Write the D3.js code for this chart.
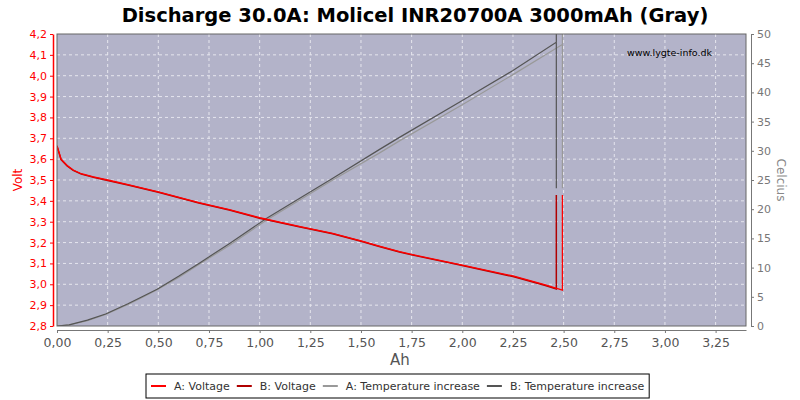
<!DOCTYPE html>
<html>
<head>
<meta charset="utf-8">
<script src="https://cdn.jsdelivr.net/npm/d3@7"></script>
<style>
body { margin: 0; background: #fff; }
text { font-family: "DejaVu Sans", sans-serif; }
</style>
</head>
<body>
<svg id="chart" width="800" height="400"></svg>
<script>
// data: [Ah, value]
var voltageA = [[0, 3.665], [0.02, 3.60], [0.05, 3.57], [0.08, 3.548], [0.12, 3.53], [0.18, 3.515], [0.25, 3.50],
    [0.35, 3.478], [0.5, 3.443], [0.7, 3.392], [0.85, 3.358], [1.0, 3.319], [1.2, 3.277], [1.36, 3.244],
    [1.5, 3.208], [1.59, 3.183], [1.69, 3.157], [1.75, 3.143], [2.0, 3.092], [2.25, 3.04], [2.41, 2.997], [2.494, 2.972], [2.494, 3.428]];
var voltageB = [[0, 3.662], [0.02, 3.598], [0.05, 3.568], [0.08, 3.546], [0.12, 3.528], [0.18, 3.513], [0.25, 3.498],
    [0.35, 3.476], [0.5, 3.441], [0.7, 3.390], [0.85, 3.356], [1.0, 3.317], [1.2, 3.275], [1.36, 3.242],
    [1.5, 3.206], [1.59, 3.181], [1.69, 3.155], [1.75, 3.141], [2.0, 3.09], [2.25, 3.037], [2.41, 2.994], [2.464, 2.977], [2.464, 3.428]];
var tempA = [[0, 0], [0.06, 0.2], [0.15, 0.9], [0.24, 2.0], [0.35, 3.7], [0.42, 4.9], [0.494, 6.2], [0.6, 8.3], [0.704, 10.6],
    [0.85, 13.8], [1.033, 18.1], [1.2, 21.6], [1.361, 25.0], [1.59, 29.6], [1.69, 31.7], [2.0, 37.9], [2.248, 43.0],
    [2.494, 48.2], [2.494, 60], [2.494, 23.6]];
var tempB = [[0, 0], [0.06, 0.2], [0.15, 1.0], [0.24, 2.05], [0.35, 3.8], [0.42, 5.0], [0.494, 6.3], [0.6, 8.5], [0.704, 10.8],
    [0.85, 14.1], [1.033, 18.4], [1.2, 21.9], [1.361, 25.3], [1.59, 30.2], [1.69, 32.3], [2.0, 38.6], [2.248, 43.7],
    [2.464, 48.6], [2.464, 60], [2.464, 23.6]];

var xTicks = [0, 0.25, 0.5, 0.75, 1, 1.25, 1.5, 1.75, 2, 2.25, 2.5, 2.75, 3, 3.25];
var voltTicks = [2.8, 2.9, 3.0, 3.1, 3.2, 3.3, 3.4, 3.5, 3.6, 3.7, 3.8, 3.9, 4.0, 4.1, 4.2];
var tempTicks = [0, 5, 10, 15, 20, 25, 30, 35, 40, 45, 50];

var seriesNames = ["A: Voltage", "B: Voltage", "A: Temperature increase", "B: Temperature increase"];
var seriesColors = ["#ff0000", "#b00000", "#999999", "#555555"];

var svg = d3.select("#chart");
var pLeft = 57, pRight = 746, pTop = 34, pBottom = 326;

var x = d3.scaleLinear().domain([0, 3.4]).range([pLeft, pRight]);
var yV = d3.scaleLinear().domain([2.8, 4.2]).range([pBottom, pTop]);
var yT = d3.scaleLinear().domain([0, 50]).range([pBottom, pTop]);

// plot background
svg.append("rect")
    .attr("x", pLeft).attr("y", pTop)
    .attr("width", pRight - pLeft).attr("height", pBottom - pTop)
    .attr("fill", "#b3b3c9");

// grid
svg.append("g").selectAll("line")
    .data(xTicks.slice(1))
    .enter().append("line")
    .attr("x1", d => x(d)).attr("x2", d => x(d))
    .attr("y1", pTop).attr("y2", pBottom)
    .attr("stroke", "#e6e6ee").attr("stroke-dasharray", "3,3");
svg.append("g").selectAll("line")
    .data(voltTicks.slice(1, -1))
    .enter().append("line")
    .attr("x1", pLeft).attr("x2", pRight)
    .attr("y1", d => yV(d)).attr("y2", d => yV(d))
    .attr("stroke", "#e6e6ee").attr("stroke-dasharray", "3,3");

svg.append("defs").append("clipPath").attr("id", "clip")
    .append("rect").attr("x", pLeft).attr("y", pTop).attr("width", pRight - pLeft).attr("height", pBottom - pTop);

var lineV = d3.line().x(d => x(d[0])).y(d => yV(d[1]));
var lineT = d3.line().x(d => x(d[0])).y(d => yT(d[1]));

var plot = svg.append("g").attr("clip-path", "url(#clip)");
plot.append("path").datum(tempA).attr("d", lineT).attr("fill", "none").attr("stroke", seriesColors[2]).attr("stroke-width", 1.2);
plot.append("path").datum(tempB).attr("d", lineT).attr("fill", "none").attr("stroke", seriesColors[3]).attr("stroke-width", 1.2);
plot.append("path").datum(voltageB).attr("d", lineV).attr("fill", "none").attr("stroke", seriesColors[1]).attr("stroke-width", 1.5);
plot.append("path").datum(voltageA).attr("d", lineV).attr("fill", "none").attr("stroke", seriesColors[0]).attr("stroke-width", 1.3);

// plot border
svg.append("rect")
    .attr("x", pLeft).attr("y", pTop)
    .attr("width", pRight - pLeft).attr("height", pBottom - pTop)
    .attr("fill", "none").attr("stroke", "#666").attr("stroke-width", 1);

// axes
var comma = d3.format(".2f");
var xAxis = svg.append("g")
    .attr("transform", "translate(0," + (pBottom + 4) + ")")
    .call(d3.axisBottom(x).tickValues(xTicks).tickSize(3).tickSizeOuter(0).tickFormat(d => comma(d).replace(".", ",")));
xAxis.select(".domain").attr("stroke", "#777");
xAxis.selectAll(".tick line").attr("stroke", "#777");
xAxis.selectAll("text").attr("fill", "#555").attr("font-size", 12.5).attr("dy", "0.9em");

var vAxis = svg.append("g")
    .attr("transform", "translate(" + (pLeft - 4) + ",0)")
    .call(d3.axisLeft(yV).tickValues(voltTicks).tickSize(3).tickSizeOuter(0).tickFormat(d => d3.format(".1f")(d).replace(".", ",")));
vAxis.select(".domain").attr("stroke", "#ff0000").attr("stroke-width", 1.5);
vAxis.selectAll(".tick line").attr("stroke", "#ff0000");
vAxis.selectAll("text").attr("fill", "#ff0000").attr("font-size", 11);

var tAxis = svg.append("g")
    .attr("transform", "translate(" + (pRight + 5) + ",0)")
    .call(d3.axisRight(yT).tickValues(tempTicks).tickSize(3).tickSizeOuter(0));
tAxis.select(".domain").attr("stroke", "#777");
tAxis.selectAll(".tick line").attr("stroke", "#777");
tAxis.selectAll("text").attr("fill", "#777").attr("font-size", 11);

// titles
svg.append("text").attr("x", 415).attr("y", 22).attr("text-anchor", "middle")
    .attr("font-size", 19.5).attr("font-weight", "bold").attr("fill", "#000")
    .text("Discharge 30.0A: Molicel INR20700A 3000mAh (Gray)");
svg.append("text").attr("x", 400).attr("y", 365).attr("text-anchor", "middle")
    .attr("font-size", 15).attr("fill", "#555").text("Ah");
svg.append("text").attr("transform", "translate(22,180) rotate(-90)").attr("text-anchor", "middle")
    .attr("font-size", 12).attr("fill", "#ff0000").text("Volt");
svg.append("text").attr("transform", "translate(777,180) rotate(90)").attr("text-anchor", "middle")
    .attr("font-size", 12).attr("fill", "#888").text("Celcius");
svg.append("text").attr("x", 712).attr("y", 56).attr("text-anchor", "end")
    .attr("font-size", 9.5).attr("fill", "#000").text("www.lygte-info.dk");

// legend
var legend = svg.append("g");
var lx = 151;
seriesNames.forEach(function(name, i) {
    legend.append("line").attr("x1", lx).attr("x2", lx + 15).attr("y1", 386).attr("y2", 386)
        .attr("stroke", seriesColors[i]).attr("stroke-width", 2);
    var t = legend.append("text").attr("x", lx + 23).attr("y", 390)
        .attr("font-size", 11).attr("fill", "#333").text(name);
    lx += 23 + t.node().getComputedTextLength() + 7;
});
legend.insert("rect", ":first-child")
    .attr("x", 146).attr("y", 374).attr("width", lx - 146 - 2).attr("height", 24)
    .attr("fill", "#fff").attr("stroke", "#000");
</script>
</body>
</html>
